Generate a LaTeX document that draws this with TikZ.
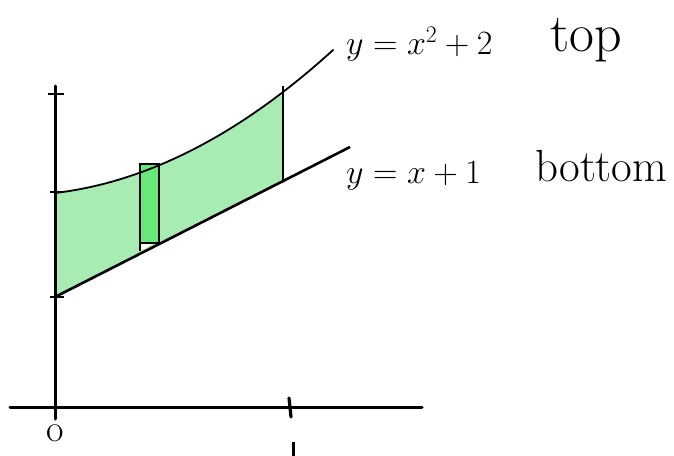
\RequirePackage{fix-cm}
\documentclass[tikz,border=0pt]{standalone}
\usepackage{fontspec}
\definecolor{regionfill}{RGB}{168,236,180}
\definecolor{stripfill}{RGB}{102,232,122}
\begin{document}
\begin{tikzpicture}[x=1pt,y=-1pt,
  axis/.style={line width=3pt,line cap=round},
  curve/.style={line width=1.8pt,line cap=round},
  edge/.style={line width=2.6pt},
  lbl/.style={font=\fontsize{34}{38}\selectfont,inner sep=0pt},
  tickl/.style={font=\fontsize{38}{40}\selectfont,inner sep=0pt}]
\useasboundingbox (0,0) rectangle (674,455);
% coordinates
\coordinate (ytop) at (55,86);
\coordinate (ybot) at (55,419);
\coordinate (xleft) at (10,407);
\coordinate (xright) at (422,407);
\coordinate (A) at (55,193);   % top curve at x=0
\coordinate (B) at (55,297);   % bottom line at x=0
\coordinate (C) at (283,181);  % bottom line at x=1
\coordinate (Dtop) at (283,86);
\coordinate (E) at (350,147);  % bottom line end
% shaded region
\fill[regionfill] (A)
  plot[domain=0:1,samples=40,variable=\t] ({55+228*\t},{193-27*\t-74*\t*\t})
  -- (C) -- (B) -- cycle;
% white gap below strip
\fill[white] (140,243) -- (159,243) -- (159,241) -- (140,251) -- cycle;
% strip
\draw[edge,fill=stripfill] (140,243) rectangle (159,164);
\draw[line width=1.4pt] (140,243) -- (140,251);
% top curve
\draw[curve] plot[domain=0:1.22,samples=60,variable=\t] ({55+228*\t},{193-27*\t-74*\t*\t});
% bottom line
\draw[edge] (B) -- (E);
% right edge
\draw[edge] (Dtop) -- (C);
% axes
\draw[axis] (ytop) -- (ybot);
\draw[axis] (xleft) -- (xright);
% ticks
\draw[line width=2.2pt] (48,94) -- (64,94);
\draw[line width=2.2pt] (50,192) -- (62,192);
\draw[line width=2.2pt] (50,297) -- (64,297);
\draw[line width=3.2pt,line cap=round] (289,398) -- (291,417);
% labels
\node[tickl] (zero) at (55,433) {o};
\node[anchor=north,inner sep=0pt] (one) at (293,442) {\rule{3pt}{14pt}};
\node[lbl,anchor=west] (topeq) at (346,44) {$y=x^2+2$};
\node[lbl,anchor=west,font=\fontsize{54}{58}\selectfont] (topw) at (550,40) {top};
\node[lbl,anchor=west] (boteq) at (346,176) {$y=x+1$};
\node[lbl,anchor=west,font=\fontsize{45}{48}\selectfont] (botw) at (535,166) {bottom};
\end{tikzpicture}
\end{document}
